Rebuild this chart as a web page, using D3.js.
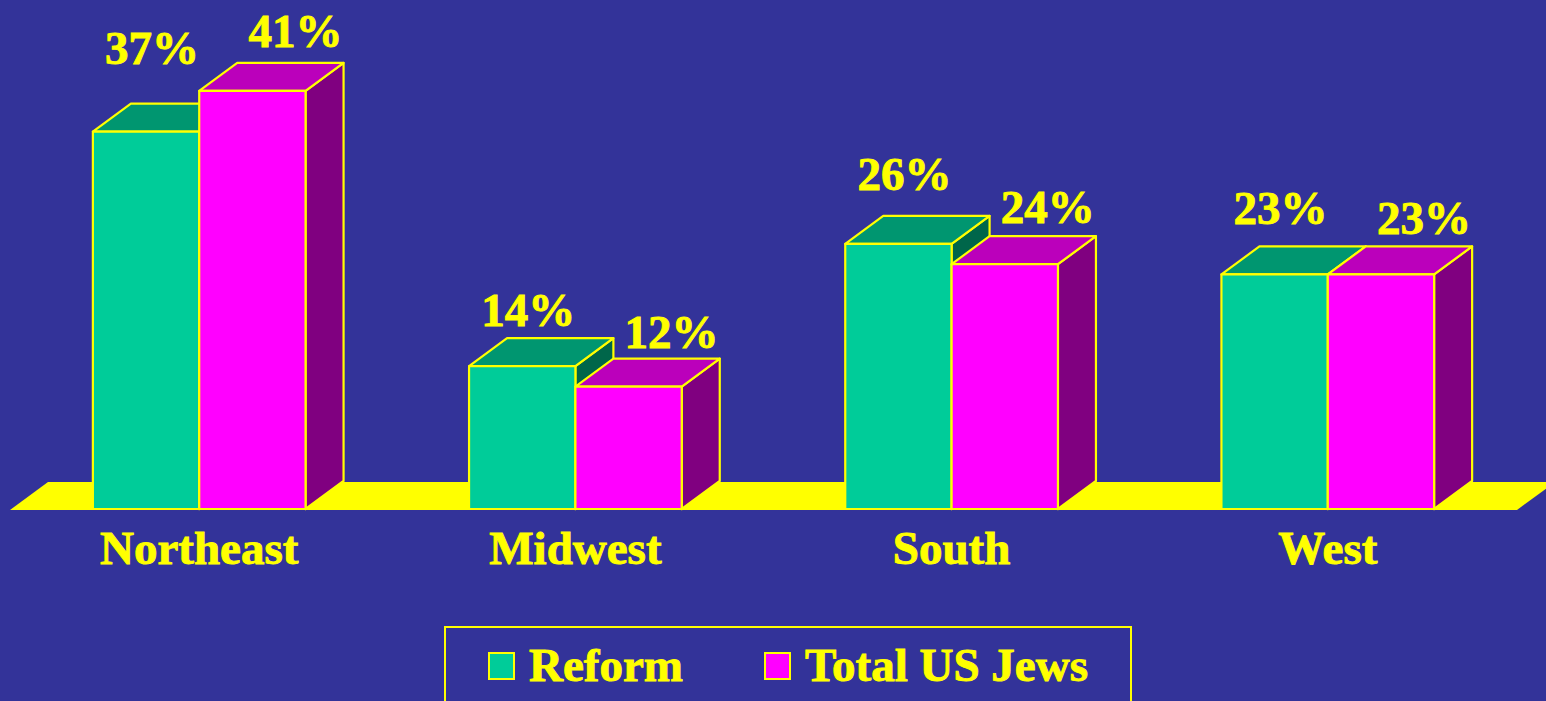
<!DOCTYPE html>
<html>
<head>
<meta charset="utf-8">
<script src="https://cdn.jsdelivr.net/npm/d3@7"></script>
<style>
  html, body { margin: 0; padding: 0; background: #333399; overflow: hidden; }
  text { font-family: "Liberation Serif", "Times New Roman", serif; font-weight: bold; fill: #ffff00; stroke: #ffff00; stroke-width: 0.9px; }
</style>
</head>
<body>
<div id="chart-container"></div>
<script>
// Data

const regions = ["Northeast", "Midwest", "South", "West"];
const series = ["Reform", "Total US Jews"];
const reform = [37, 14, 26, 23];
const totalUS = [41, 12, 24, 23];

// Set dimensions

const width = 1546;
const height = 701;
const base = 509;      // front bottom edge of the bars
const depthX = 38;     // 3D depth offset
const depthY = 28;

const faces = {
  "Reform":        { front: "#00cc99", top: "#009670", side: "#00664a" },
  "Total US Jews": { front: "#ff00ff", top: "#bb00bb", side: "#800080" }
};

// Scales

const x = d3.scaleBand()
    .domain(regions)
    .range([10, 1517])
    .paddingInner(0.4346)
    .paddingOuter(0.2203);

const xs = d3.scaleBand()
    .domain(series)
    .range([0, x.bandwidth()]);

const y = d3.scaleLinear()
    .domain([0, 50])
    .range([base, base - 510]);

// value labels sit on the slide's perspective, slightly different per series
const yLabel = {
  "Reform":        d3.scaleLinear().domain([0, 50]).range([486, 486 - 570]),
  "Total US Jews": d3.scaleLinear().domain([0, 50]).range([472.6, 472.6 - 519])
};
const labelShift = { "Reform": 6, "Total US Jews": 43 };

const svg = d3.select("#chart-container")
    .append("svg")
    .attr("width", width)
    .attr("height", height);

svg.append("rect")
    .attr("width", width)
    .attr("height", height)
    .attr("fill", "#333399");

// Floor

const x0 = x.range()[0], x1 = x.range()[1];
svg.append("polygon")
    .attr("points", [
      [x0, base + 1], [x1, base + 1],
      [x1 + depthX, base + 1 - depthY], [x0 + depthX, base + 1 - depthY]
    ].map(p => p.join(",")).join(" "))
    .attr("fill", "#ffff00");

// Bars

const bars = [];
regions.forEach((r, i) => {
  bars.push({ region: r, s: series[0], v: reform[i] });
  bars.push({ region: r, s: series[1], v: totalUS[i] });
});

const g = svg.append("g")
    .attr("stroke", "#ffff00")
    .attr("stroke-width", 2.2)
    .attr("stroke-linejoin", "round");

bars.forEach(d => {
  const left = x(d.region) + xs(d.s);
  const right = left + xs.bandwidth();
  const top = y(d.v);
  const c = faces[d.s];

  // side face
  g.append("polygon")
      .attr("points", [[right, top], [right + depthX, top - depthY],
                       [right + depthX, base - depthY], [right, base]].map(p => p.join(",")).join(" "))
      .attr("fill", c.side);
  // top face
  g.append("polygon")
      .attr("points", [[left, top], [left + depthX, top - depthY],
                       [right + depthX, top - depthY], [right, top]].map(p => p.join(",")).join(" "))
      .attr("fill", c.top);
  // front face
  g.append("rect")
      .attr("x", left)
      .attr("y", top)
      .attr("width", xs.bandwidth())
      .attr("height", base - top)
      .attr("fill", c.front);
});

// Value labels

svg.append("g")
  .selectAll("text")
  .data(bars)
  .join("text")
    .attr("x", d => x(d.region) + xs(d.s) + xs.bandwidth() / 2 + labelShift[d.s])
    .attr("y", d => yLabel[d.s](d.v))
    .attr("text-anchor", "middle")
    .style("font-size", "47px")
    .text(d => d.v + "%");

// Category labels

svg.append("g")
  .selectAll("text")
  .data(regions)
  .join("text")
    .attr("x", d => x(d) + x.bandwidth() / 2)
    .attr("y", 564)
    .attr("text-anchor", "middle")
    .style("font-size", "47px")
    .text(d => d);

// Legend

const legend = svg.append("g");
legend.append("rect")
    .attr("x", 445)
    .attr("y", 627)
    .attr("width", 686)
    .attr("height", 100)
    .attr("fill", "none")
    .attr("stroke", "#ffff00")
    .attr("stroke-width", 2);

const legendX = [489, 765];
series.forEach((s, i) => {
  legend.append("rect")
      .attr("x", legendX[i])
      .attr("y", 653)
      .attr("width", 25)
      .attr("height", 26)
      .attr("fill", faces[s].front)
      .attr("stroke", "#ffff00")
      .attr("stroke-width", 2);
  legend.append("text")
      .attr("x", legendX[i] + 40)
      .attr("y", 681)
      .style("font-size", "47px")
      .text(s);
});
</script>
</body>
</html>
